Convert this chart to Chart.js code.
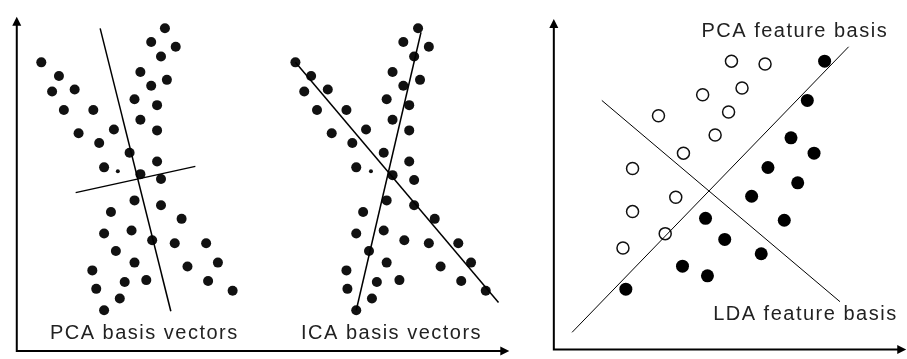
<!DOCTYPE html>
<html>
<head>
<meta charset="utf-8">
<script src="https://cdn.jsdelivr.net/npm/chart.js@4/dist/chart.umd.min.js"></script>
<style>
  html, body { margin: 0; padding: 0; background: #fff; overflow: hidden; }
  #wrap { position: relative; width: 907px; height: 359px; }
  canvas { position: absolute; top: 0; }
  #left { left: 0; }
  #right { left: 530px; }
</style>
</head>
<body>
<div id="wrap">
  <canvas id="left" width="530" height="359"></canvas>
  <canvas id="right" width="377" height="359"></canvas>
</div>
<script>
// left panel: two X-shaped clouds, origin at the axis corner
const pcaCloud = [
  [151,332],[137,318],[162,313],[147,303],[25,297],[43,283],[126,287],[153,279],
  [137,273],[36,267],[59,269],[120,259],[143,253],[48,248],[78,248],[126,238],
  [99,228],[143,227],[63,224],[84,214],[115,204],[143,195],[89,189],[126,182],
  [147,177],[120,155],[147,150],[96,143],[168,136],[89,121],[117,124],[138,114],
  [161,111],[193,111],[101,103],[120,91],[77,83],[174,87],[205,91],[110,71],
  [132,73],[195,72],[81,64],[220,62],[105,54],[89,42]
];
const pcaStray = [[103,185]];
const pcaAxis1 = [[85,332],[157,41]];
const pcaAxis2 = [[60,163],[182,190]];

const icaCloud = [
  [409,332],[394,318],[420,313],[405,303],[284,297],[300,283],[383,287],[411,279],
  [394,273],[293,267],[317,269],[377,259],[400,253],[306,248],[336,248],[383,238],
  [356,228],[400,227],[321,224],[342,214],[374,204],[400,195],[346,189],[383,181],
  [405,176],[377,155],[405,150],[353,143],[426,136],[346,121],[374,124],[395,114],
  [420,111],[450,111],[359,103],[377,91],[336,83],[432,87],[463,91],[367,71],
  [390,73],[453,72],[337,64],[478,62],[362,54],[346,42]
];
const icaStray = [[361,185]];
const icaAxis1 = [[284,297],[491,50]];
const icaAxis2 = [[412,328],[346,42]];

// right panel: two classes
const classOpen = [
  [185,301],[220,298],[196,273],[155,266],[182,248],[109,244],[168,224],
  [135,205],[82,189],[127,159],[82,144],[116,121],[72,106]
];
const classFilled = [
  [282,301],[264,260],[247,221],[271,205],[223,190],[254,174],[206,160],
  [240,135],[158,137],[178,115],[216,100],[134,87],[160,77],[75,63]
];
const pcaFeature = [[307,316],[19,18]];
const ldaFeature = [[50,260],[298,50]];

const toXY = arr => arr.map(p => ({ x: p[0], y: p[1] }));

const axesPlugin = {
  id: 'axes',
  beforeDatasetsDraw(chart, args, opts) {
    const { ctx, scales: { x, y } } = chart;
    const ox = x.getPixelForValue(0), oy = y.getPixelForValue(0);
    const ex = x.getPixelForValue(opts.xEnd), ey = y.getPixelForValue(opts.yEnd);
    ctx.save();
    ctx.strokeStyle = '#000';
    ctx.fillStyle = '#000';
    ctx.lineWidth = 2;
    ctx.beginPath();
    ctx.moveTo(ox, oy); ctx.lineTo(ox, ey + 6);
    ctx.moveTo(ox - 1, oy); ctx.lineTo(ex - 6, oy);
    ctx.stroke();
    ctx.beginPath();
    ctx.moveTo(ox, ey); ctx.lineTo(ox - 4.5, ey + 9); ctx.lineTo(ox + 4.5, ey + 9);
    ctx.fill();
    ctx.beginPath();
    ctx.moveTo(ex, oy); ctx.lineTo(ex - 9, oy - 4.5); ctx.lineTo(ex - 9, oy + 4.5);
    ctx.fill();

    ctx.font = '20px "Liberation Sans", Arial, sans-serif';
    ctx.letterSpacing = '1.5px';
    ctx.fillStyle = '#222';
    ctx.textAlign = 'center';
    ctx.textBaseline = 'middle';
    opts.labels.forEach(l => {
      ctx.fillText(l.text, x.getPixelForValue(l.x), y.getPixelForValue(l.y));
    });
    ctx.restore();
  }
};

function lineSet(data, width) {
  return {
    data: toXY(data),
    showLine: true,
    borderColor: '#000',
    borderWidth: width,
    pointRadius: 0,
    fill: false
  };
}

function dotSet(data, r) {
  return {
    data: toXY(data),
    pointRadius: r,
    pointBackgroundColor: '#111',
    pointBorderWidth: 0,
    showLine: false
  };
}

function baseOptions(xr, yr, axes) {
  return {
    responsive: false,
    animation: false,
    layout: { padding: 0 },
    scales: {
      x: { type: 'linear', min: xr[0], max: xr[1], display: false },
      y: { type: 'linear', min: yr[0], max: yr[1], display: false }
    },
    plugins: {
      legend: { display: false },
      tooltip: { enabled: false },
      axes: axes
    }
  };
}

new Chart(document.getElementById('left'), {
  type: 'scatter',
  data: {
    datasets: [
      lineSet(pcaAxis1, 1.5),
      lineSet(pcaAxis2, 1.5),
      lineSet(icaAxis1, 1.5),
      lineSet(icaAxis2, 1.5),
      dotSet(pcaCloud, 5),
      dotSet(pcaStray, 2),
      dotSet(icaCloud, 5),
      dotSet(icaStray, 2)
    ]
  },
  options: baseOptions([-12, 518], [-3, 356], {
    xEnd: 502, yEnd: 344,
    labels: [
      { text: 'PCA basis vectors', x: 130, y: 18 },
      { text: 'ICA basis vectors', x: 382, y: 18 }
    ]
  }),
  plugins: [axesPlugin]
});

new Chart(document.getElementById('right'), {
  type: 'scatter',
  data: {
    datasets: [
      lineSet(pcaFeature, 1),
      lineSet(ldaFeature, 1),
      {
        data: toXY(classOpen),
        pointRadius: 6,
        pointBackgroundColor: '#fff',
        pointBorderColor: '#111',
        pointBorderWidth: 1.5,
        showLine: false
      },
      {
        data: toXY(classFilled),
        pointRadius: 6.5,
        pointBackgroundColor: '#000',
        pointBorderWidth: 0,
        showLine: false
      }
    ]
  },
  options: baseOptions([-17, 360], [-2, 357], {
    xEnd: 367, yEnd: 345,
    labels: [
      { text: 'PCA feature basis', x: 251, y: 332 },
      { text: 'LDA feature basis', x: 262, y: 37 }
    ]
  }),
  plugins: [axesPlugin]
});
</script>
</body>
</html>
